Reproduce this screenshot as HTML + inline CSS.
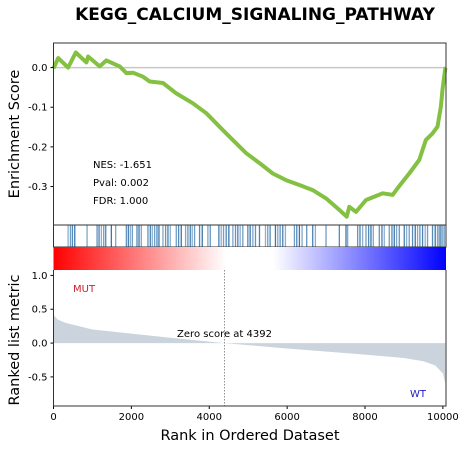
<!DOCTYPE html>
<html><head><meta charset="utf-8"><style>
body{margin:0;background:#fff;}
svg{display:block;font-family:"DejaVu Sans","Liberation Sans",sans-serif;}
</style></head><body>
<svg id="chart" width="467" height="450">
<defs>
<linearGradient id="cbar" x1="0" x2="1" y1="0" y2="0">
<stop offset="0" stop-color="#ff0000"/><stop offset="0.44" stop-color="#ffffff"/><stop offset="0.56" stop-color="#ffffff"/><stop offset="1" stop-color="#0000ff"/>
</linearGradient>
</defs>
<text x="255" y="20" text-anchor="middle" font-size="17" font-weight="bold">KEGG_CALCIUM_SIGNALING_PATHWAY</text>
<g id="topPanel"></g>
<g id="hits"></g>
<rect x="53.5" y="247" width="392.5" height="23" fill="url(#cbar)"/>
<g id="bottomPanel"></g>
</svg>
<script>
const esRanks=[0,120,375,572,846,888,1187,1358,1700,1872,2042,2298,2470,2811,3154,3580,3923,4264,4606,4949,5290,5632,5975,6315,6657,7000,7341,7529,7597,7769,8025,8451,8708,8870,9136,9392,9562,9734,9862,9948,9990,10060,10080];
const esValues=[-0.002,0.024,0,0.038,0.013,0.028,0.003,0.018,0.003,-0.014,-0.013,-0.023,-0.035,-0.039,-0.065,-0.09,-0.115,-0.149,-0.183,-0.216,-0.241,-0.267,-0.284,-0.296,-0.309,-0.33,-0.359,-0.376,-0.351,-0.364,-0.334,-0.317,-0.321,-0.3,-0.267,-0.233,-0.183,-0.166,-0.149,-0.098,-0.056,-0.003,0.0];
const hitRanks=[375,435,486,546,862,1119,1170,1230,1290,1341,1486,1597,1871,1922,1973,2025,2144,2196,2255,2426,2486,2537,2597,2657,2708,2811,2879,2939,2999,3153,3213,3281,3392,3452,3512,3563,3623,3751,3820,3965,4025,4247,4307,4367,4435,4503,4606,4674,4734,4794,4862,4991,5050,5119,5187,5290,5444,5503,5563,5700,5760,5820,5888,5956,6187,6247,6315,6384,6503,6657,6726,6999,7341,7512,7555,7811,7871,7939,8025,8093,8153,8213,8367,8435,8495,8623,8692,8751,8811,8880,9008,9068,9136,9221,9290,9350,9410,9478,9546,9606,9734,9803,9862,9905,9948,9991,10034];
const metricRanks=[0,100,300,1000,2000,3000,4392,6000,8000,9000,9500,9800,10000,10060];
const metricValues=[0.42,0.35,0.3,0.2,0.14,0.08,0,-0.08,-0.17,-0.22,-0.27,-0.33,-0.45,-0.6];
const xTicks=[0,2000,4000,6000,8000,10000];
const esTicks=[0.0,-0.1,-0.2,-0.3];
const metricTicks=[1.0,0.5,0.0,-0.5];
const zeroRank=4392;

const NS="http://www.w3.org/2000/svg";
const L=53.5,R=446,X0=0,X1=10080;
const x=v=>L+(v-X0)/(X1-X0)*(R-L);
const T1=43,B1=225,E0=0.062,E1=-0.397;
const yE=v=>T1+(E0-v)/(E0-E1)*(B1-T1);
const T2=270,B2=406,M0=1.08,M1=-0.93;
const yM=v=>T2+(M0-v)/(M0-M1)*(B2-T2);
function mk(tag,attrs,parent){const e=document.createElementNS(NS,tag);for(const k in attrs)e.setAttribute(k,attrs[k]);parent.appendChild(e);return e;}
const gTop=document.getElementById('topPanel'),gHits=document.getElementById('hits'),gBot=document.getElementById('bottomPanel');

let z=mk('line',{x1:L,x2:R,y1:yE(0),y2:yE(0),stroke:'#c8c8c8','stroke-width':1.5},gTop);


let d=esRanks.map((r,i)=>(i?'L':'M')+x(r).toFixed(1)+','+yE(esValues[i]).toFixed(1)).join('');
let es=mk('path',{d:d,fill:'none',stroke:'#84c042','stroke-width':4,'stroke-linejoin':'round'},gTop);


esTicks.forEach(t=>{
 let tk=mk('line',{x1:L-3,x2:L,y1:yE(t),y2:yE(t),stroke:'#000'},gTop);
 
 
 let lb=mk('text',{x:L-6,y:yE(t)+3.5,'text-anchor':'end','font-size':10},gTop);lb.textContent=t.toFixed(1);
 
 
});
let f1=mk('rect',{x:L,y:T1,width:R-L,height:B1-T1,fill:'none',stroke:'#333','stroke-width':1},gTop);


[['NES: -1.651',168],['Pval: 0.002',186],['FDR: 1.000',204]].forEach(s=>{
 let t=mk('text',{x:93,y:s[1],'font-size':10},gTop);t.textContent=s[0];
 
 
});
let yl1=mk('text',{transform:'translate(19,134) rotate(-90)','text-anchor':'middle','font-size':14.5},gTop);yl1.textContent='Enrichment Score';



hitRanks.forEach((r,i)=>{
 let h=mk('line',{x1:x(r),x2:x(r),y1:225,y2:247,stroke:'#2f6fa8','stroke-width':1.3,'stroke-opacity':(0.55+0.45*((i*37)%7)/7).toFixed(2)},gHits);
 
 
});
let f2=mk('rect',{x:L,y:225,width:R-L,height:22,fill:'none',stroke:'#333','stroke-width':1},gHits);



let ad='M'+x(metricRanks[0])+','+yM(0)+metricRanks.map((r,i)=>'L'+x(r).toFixed(1)+','+yM(metricValues[i]).toFixed(1)).join('')+'L'+x(metricRanks[metricRanks.length-1])+','+yM(0)+'Z';
let ar=mk('path',{d:ad,fill:'#cbd4dc'},gBot);


let zl=mk('line',{x1:x(zeroRank),x2:x(zeroRank),y1:T2,y2:B2,stroke:'#777','stroke-dasharray':'1.5,1.5','stroke-width':0.8},gBot);


let zt=mk('text',{x:x(zeroRank),y:yM(0.09),'text-anchor':'middle','font-size':10},gBot);zt.textContent='Zero score at '+zeroRank;


let mut=mk('text',{x:73,y:292,'font-size':10,fill:'#d0202a'},gBot);mut.textContent='MUT';


let wt=mk('text',{x:410,y:397,'font-size':10,fill:'#2020c0'},gBot);wt.textContent='WT';


metricTicks.forEach(t=>{
 let tk=mk('line',{x1:L-3,x2:L,y1:yM(t),y2:yM(t),stroke:'#000'},gBot);
 
 
 let lb=mk('text',{x:L-6,y:yM(t)+3.5,'text-anchor':'end','font-size':10},gBot);lb.textContent=t.toFixed(1);
 
 
});
xTicks.forEach(t=>{
 let tk=mk('line',{x1:x(t),x2:x(t),y1:B2,y2:B2+3,stroke:'#000'},gBot);
 
 
 let lb=mk('text',{x:x(t),y:B2+14,'text-anchor':'middle','font-size':10},gBot);lb.textContent=t;
 
 
});
let f3=mk('path',{d:`M${L},${T2}V${B2}H${R}V${T2}`,fill:'none',stroke:'#333','stroke-width':1},gBot);


let yl2=mk('text',{transform:'translate(19,340) rotate(-90)','text-anchor':'middle','font-size':14.5},gBot);yl2.textContent='Ranked list metric';


let xl=mk('text',{x:250,y:440,'text-anchor':'middle','font-size':14.5},gBot);xl.textContent='Rank in Ordered Dataset';


</script>
</body></html>
